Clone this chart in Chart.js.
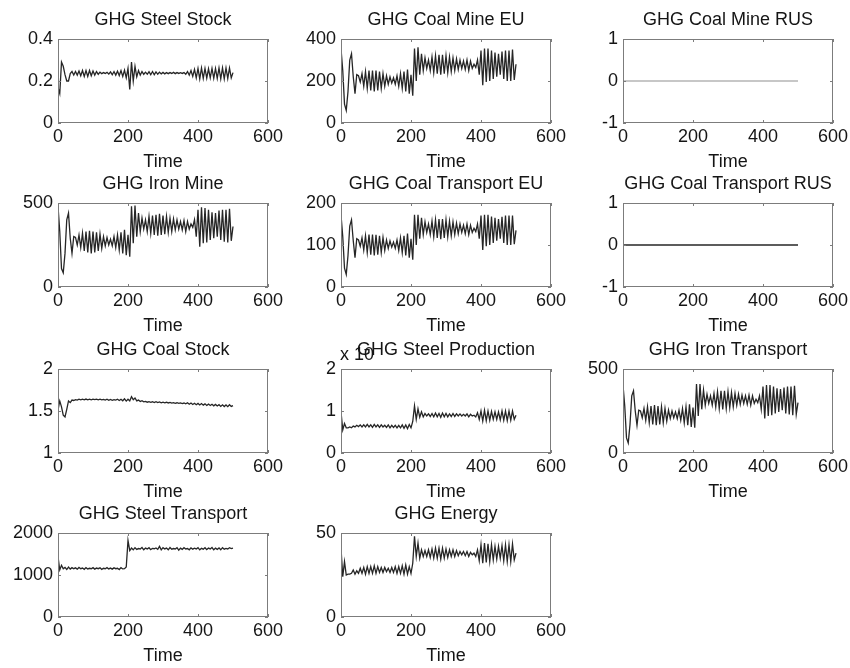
<!DOCTYPE html>
<html>
<head>
<meta charset="utf-8">
<title>GHG emissions</title>
<script src="https://cdn.jsdelivr.net/npm/chart.js@4.4.1/dist/chart.umd.min.js"></script>
<style>
  html, body { margin: 0; padding: 0; background: #fff; overflow: hidden; }
  #figure { position: relative; width: 850px; height: 668px; background: #fff; }
  #figure canvas { position: absolute; }
</style>
</head>
<body>
<div id="figure"></div>
<script>
// time axis (shared by all oscillating series)
const time = [
  0, 5, 10, 15, 20, 25, 30, 35, 40, 45,
  50, 55, 60, 65, 70, 75, 80, 85, 90, 95,
  100, 105, 110, 115, 120, 125, 130, 135, 140, 145,
  150, 155, 160, 165, 170, 175, 180, 185, 190, 195,
  200, 205, 210, 215, 220, 225, 230, 235, 240, 245,
  250, 255, 260, 265, 270, 275, 280, 285, 290, 295,
  300, 305, 310, 315, 320, 325, 330, 335, 340, 345,
  350, 355, 360, 365, 370, 375, 380, 385, 390, 395,
  400, 405, 410, 415, 420, 425, 430, 435, 440, 445,
  450, 455, 460, 465, 470, 475, 480, 485, 490, 495,
  500
];
const timeFlat = [0, 500];

const steelStock = [
  0.17, 0.14, 0.29, 0.27, 0.23, 0.2, 0.2, 0.235, 0.245, 0.228,
  0.245, 0.228, 0.248, 0.225, 0.25, 0.222, 0.25, 0.222, 0.25, 0.225,
  0.248, 0.228, 0.245, 0.232, 0.242, 0.235, 0.24, 0.236, 0.241, 0.233,
  0.243, 0.23, 0.245, 0.228, 0.247, 0.226, 0.25, 0.222, 0.252, 0.215,
  0.26, 0.16, 0.29, 0.2, 0.27, 0.22, 0.25, 0.228, 0.245, 0.232,
  0.242, 0.232, 0.244, 0.23, 0.245, 0.23, 0.243, 0.232, 0.242, 0.234,
  0.241, 0.234, 0.24, 0.235, 0.24, 0.236, 0.241, 0.235, 0.24, 0.236,
  0.24, 0.236, 0.24, 0.232, 0.245, 0.228, 0.25, 0.222, 0.255, 0.215,
  0.26, 0.21, 0.262, 0.212, 0.26, 0.214, 0.258, 0.215, 0.26, 0.213,
  0.26, 0.212, 0.262, 0.21, 0.262, 0.21, 0.262, 0.212, 0.262, 0.215,
  0.24
];

const coalMineEU = [
  355, 250, 90, 60, 150, 300, 330, 220, 140, 230,
  225, 195, 235, 175, 245, 165, 250, 155, 250, 150,
  250, 155, 245, 165, 235, 175, 225, 185, 220, 190,
  215, 185, 225, 175, 235, 165, 245, 150, 255, 140,
  230, 130, 355, 200, 360, 230, 330, 250, 310, 260,
  300, 250, 315, 240, 320, 235, 325, 230, 325, 235,
  320, 240, 315, 245, 310, 250, 305, 255, 300, 260,
  295, 255, 300, 250, 295, 260, 280, 265, 300, 230,
  345, 180, 355, 195, 355, 200, 345, 210, 335, 220,
  330, 230, 340, 210, 345, 200, 345, 200, 350, 205,
  280
];

const coalMineRUS = [0, 0];

const ironMine = [
  480, 330, 110, 85, 200, 400, 440, 290, 200, 300,
  295, 250, 310, 235, 320, 215, 330, 205, 335, 200,
  330, 205, 325, 215, 315, 230, 300, 245, 295, 250,
  285, 245, 300, 235, 310, 220, 325, 200, 340, 190,
  310, 180, 480, 260, 485, 300, 440, 330, 410, 345,
  400, 330, 420, 320, 425, 310, 430, 305, 435, 310,
  425, 315, 420, 325, 410, 330, 405, 340, 400, 345,
  390, 340, 395, 330, 390, 345, 375, 355, 400, 300,
  460, 240, 475, 260, 470, 265, 460, 280, 445, 290,
  440, 300, 455, 280, 460, 270, 460, 265, 465, 275,
  360
];

const coalTransportEU = [
  172, 120, 45, 30, 75, 145, 160, 110, 70, 115,
  112, 97, 117, 88, 122, 82, 125, 77, 125, 75,
  124, 77, 122, 82, 118, 87, 112, 92, 110, 95,
  107, 92, 112, 87, 117, 82, 122, 75, 127, 70,
  115, 65, 172, 100, 172, 115, 165, 125, 155, 130,
  150, 125, 157, 120, 160, 117, 162, 114, 162, 117,
  160, 120, 157, 122, 155, 125, 152, 127, 150, 130,
  147, 127, 150, 125, 147, 130, 140, 132, 150, 115,
  170, 88, 172, 97, 172, 100, 168, 105, 165, 110,
  162, 115, 167, 105, 170, 100, 170, 100, 170, 102,
  135
];

const coalTransportRUS = [0, 0];

const coalStock = [
  1.51, 1.62, 1.55, 1.45, 1.43, 1.52, 1.62, 1.6, 1.63, 1.625,
  1.635, 1.63, 1.64, 1.632, 1.64, 1.632, 1.642, 1.633, 1.64, 1.632,
  1.64, 1.635, 1.642, 1.633, 1.64, 1.632, 1.638, 1.63, 1.64, 1.628,
  1.638, 1.628, 1.636, 1.63, 1.64, 1.625, 1.64, 1.622, 1.645, 1.618,
  1.64, 1.62, 1.67, 1.635, 1.655, 1.62, 1.63, 1.612, 1.622, 1.61,
  1.615, 1.605, 1.612, 1.604, 1.61, 1.6, 1.61, 1.6, 1.608, 1.598,
  1.605, 1.597, 1.604, 1.596, 1.603, 1.594, 1.6, 1.592, 1.598, 1.59,
  1.596, 1.588, 1.595, 1.585, 1.598, 1.58, 1.595, 1.578, 1.592, 1.575,
  1.59, 1.572, 1.588, 1.57, 1.585, 1.566, 1.582, 1.565, 1.58, 1.562,
  1.578, 1.56, 1.575, 1.555, 1.574, 1.553, 1.572, 1.552, 1.575, 1.555,
  1.565
];

const steelProduction = [
  0.98, 0.55, 0.7, 0.6, 0.6, 0.62, 0.6, 0.64, 0.62, 0.66,
  0.63, 0.67, 0.62, 0.67, 0.62, 0.68, 0.62, 0.67, 0.61, 0.68,
  0.62, 0.67, 0.61, 0.67, 0.62, 0.66, 0.61, 0.67, 0.6, 0.66,
  0.61, 0.66, 0.6, 0.66, 0.6, 0.67, 0.59, 0.67, 0.58, 0.68,
  0.6, 0.75, 1.12, 0.8, 1.05, 0.85, 0.98, 0.86, 0.94, 0.88,
  0.93, 0.87, 0.94, 0.86, 0.95, 0.86, 0.94, 0.85, 0.95, 0.86,
  0.94, 0.86, 0.93, 0.87, 0.94, 0.87, 0.93, 0.88, 0.93, 0.88,
  0.92, 0.88, 0.93, 0.86, 0.92, 0.88, 0.9, 0.86, 0.96, 0.8,
  1.0, 0.76, 1.02, 0.77, 1.0, 0.78, 0.99, 0.8, 0.98, 0.8,
  0.98, 0.79, 1.0, 0.78, 1.0, 0.77, 1.0, 0.78, 1.0, 0.8,
  0.9
];

const ironTransport = [
  405, 280, 90, 60, 170, 340, 370, 250, 165, 255,
  250, 210, 265, 195, 275, 180, 280, 170, 285, 165,
  280, 170, 275, 180, 265, 190, 255, 205, 250, 210,
  245, 205, 255, 195, 265, 180, 275, 165, 290, 155,
  270, 150, 410, 220, 410, 260, 375, 285, 350, 295,
  340, 285, 355, 275, 365, 265, 370, 260, 370, 265,
  365, 270, 360, 275, 355, 285, 350, 290, 345, 295,
  340, 290, 345, 285, 340, 295, 320, 300, 340, 260,
  395, 205, 405, 220, 405, 225, 395, 235, 385, 245,
  380, 255, 390, 235, 395, 230, 395, 225, 400, 230,
  300
];

const steelTransport = [
  1440, 1120, 1230, 1150, 1180, 1130, 1190, 1140, 1175, 1150,
  1170, 1140, 1180, 1150, 1165, 1135, 1175, 1145, 1160, 1150,
  1175, 1140, 1165, 1150, 1170, 1135, 1160, 1150, 1175, 1145,
  1165, 1140, 1170, 1150, 1160, 1130, 1175, 1145, 1150, 1190,
  1820, 1580, 1640, 1600, 1650, 1610, 1630, 1620, 1655, 1600,
  1640, 1620, 1650, 1605, 1635, 1625, 1645, 1610, 1680, 1600,
  1650, 1620, 1640, 1600, 1655, 1615, 1630, 1620, 1650, 1590,
  1640, 1610, 1650, 1620, 1630, 1600, 1645, 1615, 1640, 1620,
  1650, 1600, 1635, 1615, 1650, 1605, 1640, 1620, 1655, 1600,
  1640, 1610, 1645, 1600, 1650, 1615, 1635, 1620, 1650, 1630,
  1640
];

const energy = [
  41, 24, 33, 25, 25.5, 25.5, 26, 28, 25.5, 27.5,
  26, 29, 26, 29.5, 25.5, 30, 26, 30, 26, 30.5,
  26, 30, 26.5, 29.5, 26.5, 29.5, 27, 29, 26.5, 29.5,
  26.5, 30, 26, 30, 26, 30.5, 25.5, 31, 25.5, 30,
  26, 32, 48, 36, 44, 35, 40, 36, 39.5, 36,
  40, 35.5, 40.5, 35, 41, 35, 41, 34.5, 41, 35,
  40.5, 35.5, 40, 36, 40, 36, 39.5, 36.5, 39, 37,
  39, 36.5, 39, 36, 38.5, 37, 38, 36, 40, 33.5,
  43, 32, 44, 32.5, 43.5, 33, 43, 34, 42, 34.5,
  42, 35, 42.5, 33.5, 43, 33, 43, 33, 43.5, 34,
  38
];

// x axis ticks
const xTicks = { min: 0, max: 600, step: 200 };

// subplot grid: plot-area origin of each panel
const colLeft = [58, 341, 623];
const rowTop = [39, 203, 369, 533];
const PLOT_W = 210, PLOT_H = 84;
const Y_AXIS_W = 52, TITLE_H = 33, X_AXIS_H = 49, PAD_R = 22;

const panels = [
  { title: 'GHG Steel Stock',        row: 0, col: 0, x: time,     y: steelStock,       min: 0,  max: 0.4,  step: 0.2 },
  { title: 'GHG Coal Mine EU',       row: 0, col: 1, x: time,     y: coalMineEU,       min: 0,  max: 400,  step: 200 },
  { title: 'GHG Coal Mine RUS',      row: 0, col: 2, x: timeFlat, y: coalMineRUS,      min: -1, max: 1,    step: 1, color: '#b4b4b4' },
  { title: 'GHG Iron Mine',          row: 1, col: 0, x: time,     y: ironMine,         min: 0,  max: 500,  step: 500 },
  { title: 'GHG Coal Transport EU',  row: 1, col: 1, x: time,     y: coalTransportEU,  min: 0,  max: 200,  step: 100 },
  { title: 'GHG Coal Transport RUS', row: 1, col: 2, x: timeFlat, y: coalTransportRUS, min: -1, max: 1,    step: 1 },
  { title: 'GHG Coal Stock',         row: 2, col: 0, x: time,     y: coalStock,        min: 1,  max: 2,    step: 0.5 },
  { title: 'GHG Steel Production',   row: 2, col: 1, x: time,     y: steelProduction,  min: 0,  max: 2,    step: 1, note: 'x 10' },
  { title: 'GHG Iron Transport',     row: 2, col: 2, x: time,     y: ironTransport,    min: 0,  max: 500,  step: 500 },
  { title: 'GHG Steel Transport',    row: 3, col: 0, x: time,     y: steelTransport,   min: 0,  max: 2000, step: 1000 },
  { title: 'GHG Energy',             row: 3, col: 1, x: time,     y: energy,           min: 0,  max: 50,   step: 50 }
];

const FONT = { family: '"Liberation Sans", Arial, sans-serif', size: 18, lineHeight: '20px' };
const TEXT = '#151515';
const FRAME = '#7c7c7c';
const TRACE = '#262626';

Chart.defaults.font.family = FONT.family;
Chart.defaults.color = TEXT;

// MATLAB-like box with inward ticks
const matlabBox = {
  id: 'matlabBox',
  afterDraw(chart, args, opts) {
    const { ctx, chartArea: a, scales } = chart;
    ctx.save();
    ctx.strokeStyle = FRAME;
    ctx.lineWidth = 1;
    ctx.strokeRect(a.left + 0.5, a.top + 0.5, a.width - 1, a.height - 1);
    ctx.beginPath();
    scales.x.ticks.forEach(t => {
      const px = Math.round(scales.x.getPixelForValue(t.value)) + 0.5;
      ctx.moveTo(px, a.bottom); ctx.lineTo(px, a.bottom - 3);
      ctx.moveTo(px, a.top); ctx.lineTo(px, a.top + 3);
    });
    scales.y.ticks.forEach(t => {
      const py = Math.round(scales.y.getPixelForValue(t.value)) + 0.5;
      ctx.moveTo(a.left, py); ctx.lineTo(a.left + 3, py);
      ctx.moveTo(a.right, py); ctx.lineTo(a.right - 3, py);
    });
    ctx.stroke();
    if (opts && opts.note) {
      ctx.fillStyle = TEXT;
      ctx.font = FONT.size + 'px ' + FONT.family;
      ctx.textAlign = 'left';
      ctx.textBaseline = 'middle';
      ctx.fillText(opts.note, a.left - 1, a.top - 14);
    }
    ctx.restore();
  }
};

const fmt = v => String(Math.round(v * 100) / 100);

const fig = document.getElementById('figure');

panels.forEach(p => {
  const cv = document.createElement('canvas');
  const w = Y_AXIS_W + PLOT_W + PAD_R;
  const h = TITLE_H + PLOT_H + X_AXIS_H;
  cv.width = w;
  cv.height = h;
  cv.style.left = (colLeft[p.col] - Y_AXIS_W) + 'px';
  cv.style.top = (rowTop[p.row] - TITLE_H) + 'px';
  cv.style.width = w + 'px';
  cv.style.height = h + 'px';
  fig.appendChild(cv);

  new Chart(cv.getContext('2d'), {
    type: 'line',
    data: {
      labels: p.x,
      datasets: [{
        data: p.y,
        borderColor: p.color || TRACE,
        borderWidth: 1.3,
        pointRadius: 0,
        tension: 0,
        fill: false
      }]
    },
    options: {
      responsive: false,
      animation: false,
      devicePixelRatio: 1,
      layout: { padding: { left: 0, right: PAD_R, top: 0, bottom: 0 } },
      plugins: {
        legend: { display: false },
        tooltip: { enabled: false },
        title: {
          display: true,
          text: p.title,
          fullSize: false,
          color: TEXT,
          font: { size: FONT.size, lineHeight: FONT.lineHeight, weight: 'normal' },
          padding: { top: 4, bottom: 9 }
        },
        matlabBox: { note: p.note || null }
      },
      scales: {
        x: {
          type: 'linear',
          min: xTicks.min,
          max: xTicks.max,
          grid: { display: false, drawTicks: false },
          border: { display: false },
          ticks: { stepSize: xTicks.step, padding: 4, color: TEXT, font: { size: FONT.size, lineHeight: FONT.lineHeight }, callback: fmt },
          title: { display: true, text: 'Time', color: TEXT, padding: 0, font: { size: FONT.size, lineHeight: FONT.lineHeight } },
          afterFit: s => { s.height = X_AXIS_H; }
        },
        y: {
          min: p.min,
          max: p.max,
          grid: { display: false, drawTicks: false },
          border: { display: false },
          ticks: { stepSize: p.step, padding: 5, color: TEXT, font: { size: FONT.size, lineHeight: FONT.lineHeight }, callback: fmt },
          afterFit: s => { s.width = Y_AXIS_W; }
        }
      }
    },
    plugins: [matlabBox]
  });
});
</script>
</body>
</html>
